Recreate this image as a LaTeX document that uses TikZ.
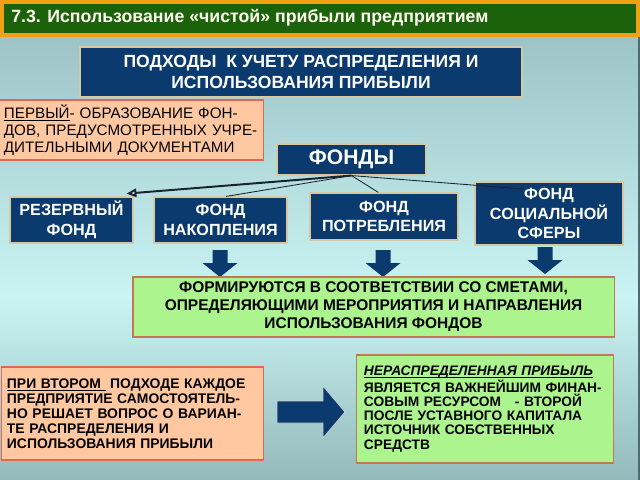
\documentclass[tikz,border=0pt]{standalone}
\usepackage{fontspec}
\setmainfont{Liberation Sans}
\usetikzlibrary{arrows.meta}
\definecolor{bgtop}{RGB}{122,158,164}
\definecolor{bgmid}{RGB}{202,244,243}
\definecolor{bgbot}{RGB}{76,108,114}
\definecolor{titlegreen}{RGB}{28,98,10}
\definecolor{titleorange}{RGB}{240,160,16}
\definecolor{navy}{RGB}{10,58,110}
\definecolor{tan}{RGB}{214,200,160}
\definecolor{peach}{RGB}{255,200,160}
\definecolor{peachline}{RGB}{222,104,84}
\definecolor{lightgreen}{RGB}{172,244,142}
\definecolor{greenline}{RGB}{196,118,86}
\definecolor{linkcolor}{RGB}{24,36,50}
\pgfdeclareverticalshading{slidebg}{100bp}{color(0bp)=(bgbot); color(44bp)=(bgmid);
  color(92bp)=(bgtop); color(100bp)=(bgtop)}
\newcommand{\ul}[1]{\underline{\raisebox{0pt}[\height][0pt]{#1}}}
\tikzset{
  bluebox/.style = {fill=navy, draw=tan, line width=0.8pt, text=white,
    font=\bfseries, align=center, inner sep=0pt},
  pinkbox/.style = {fill=peach, draw=peachline, line width=0.8pt, text=black,
    align=left, inner xsep=4pt, inner ysep=0pt},
  greenbox/.style = {fill=lightgreen, draw=greenline, line width=0.8pt, text=black,
    font=\bfseries, inner sep=0pt},
  thinlink/.style = {draw=linkcolor, line width=0.6pt},
  thicklink/.style = {draw=linkcolor, line width=1.4pt},
  downarrow/.pic = {
    \fill[navy] (-7.5,0) -- (7.5,0) -- (7.5,13) -- (17.5,13) -- (0,27)
      -- (-17.5,13) -- (-7.5,13) -- cycle;
  },
  rightarrow/.pic = {
    \filldraw[fill=navy, draw=gray!40, line width=0.6pt] (0,-11) -- (46,-11)
      -- (46,-26) -- (68,0) -- (46,26) -- (46,11) -- (0,11) -- cycle;
  }
}
\begin{document}
\begin{tikzpicture}[x=0.025cm, y=-0.025cm]
\useasboundingbox (0,0) rectangle (640,480);

% 背景のグラデーション
\shade[shading=slidebg] (0,0) rectangle (640,480);
\draw[bgbot, line width=0.8pt] (639,37) -- (639,480);

% タイトル
\fill[titleorange] (0,0) rectangle (640,37);
\fill[titlegreen] (4,4) rectangle (636,33);
\node[anchor=west, text=white!94!yellow, font=\fontsize{12.6}{15}\selectfont\bfseries, inner sep=0pt]
  (title) at (11,18) {7.3. Использование «чистой» прибыли предприятием};

% 上の箱
\node[bluebox, minimum width=11.05cm, minimum height=1.25cm,
  font=\fontsize{12.5}{15}\selectfont\bfseries] (approach) at (301,72)
  {ПОДХОДЫ\ \ К УЧЕТУ РАСПРЕДЕЛЕНИЯ И\\ИСПОЛЬЗОВАНИЯ ПРИБЫЛИ};

% 第一の方法
\node[pinkbox, minimum width=6.55cm, minimum height=1.5cm, text width=6.35cm,
  font=\fontsize{10.8}{12}\selectfont] (first) at (131,130)
  {\ul{ПЕРВЫЙ}- ОБРАЗОВАНИЕ ФОН-\\ДОВ, ПРЕДУСМОТРЕННЫХ УЧРЕ-\\ДИТЕЛЬНЫМИ ДОКУМЕНТАМИ};

% 基金
\node[bluebox, minimum width=3.725cm, minimum height=0.775cm,
  font=\fontsize{15}{17}\selectfont\bfseries] (funds) at (351.5,159.5) {ФОНДЫ};
\node[bluebox, minimum width=3.075cm, minimum height=1.15cm,
  font=\fontsize{11.5}{14}\selectfont\bfseries] (reserve) at (71.5,220) {РЕЗЕРВНЫЙ\\ФОНД};
\node[bluebox, minimum width=3.325cm, minimum height=1.15cm,
  font=\fontsize{11.5}{14}\selectfont\bfseries] (saving) at (220.5,220) {ФОНД\\НАКОПЛЕНИЯ};
\node[bluebox, minimum width=3.7cm, minimum height=1.175cm,
  font=\fontsize{11.5}{14}\selectfont\bfseries] (consume) at (384,216.5) {ФОНД\\ПОТРЕБЛЕНИЯ};
\node[bluebox, minimum width=3.7cm, minimum height=1.575cm,
  font=\fontsize{11.5}{14}\selectfont\bfseries] (social) at (549,213.5) {ФОНД\\СОЦИАЛЬНОЙ\\СФЕРЫ};

% 基金からの線
\coordinate (socialend) at (523,189);
\draw[thicklink, -{Triangle[open, fill=white!80!gray, length=7pt, width=6pt]}]
  (funds.south) -- ([xshift=-5pt, yshift=2pt]reserve.north east);
\draw[thinlink] (funds.south) -- ([xshift=4pt]saving.north);
\draw[thinlink] (funds.south) -- ([xshift=-4pt]consume.north);
\draw[thinlink] (funds.south) -- (socialend);

% 下向きの矢印
\path (220,250) pic {downarrow};
\path (383,250) pic {downarrow};
\path (545,247) pic {downarrow};

% 中央の箱
\node[greenbox, align=center, minimum width=12.025cm, minimum height=1.5cm,
  font=\fontsize{11}{12.8}\selectfont\bfseries] (estimates) at (373.5,307)
  {ФОРМИРУЮТСЯ В СООТВЕТСТВИИ СО СМЕТАМИ,\\ОПРЕДЕЛЯЮЩИМИ МЕРОПРИЯТИЯ И НАПРАВЛЕНИЯ\\ИСПОЛЬЗОВАНИЯ ФОНДОВ};

% 第二の方法
\node[pinkbox, minimum width=6.475cm, minimum height=2.325cm, text width=6.275cm,
  font=\fontsize{9.9}{10.7}\selectfont\bfseries] (second) at (132.5,413.5)
  {\ul{ПРИ ВТОРОМ\ }\ ПОДХОДЕ КАЖДОЕ\\ПРЕДПРИЯТИЕ САМОСТОЯТЕЛЬ-\\НО РЕШАЕТ ВОПРОС О ВАРИАН-\\ТЕ РАСПРЕДЕЛЕНИЯ И\\ИСПОЛЬЗОВАНИЯ ПРИБЫЛИ};

% 右向きの矢印
\path (277,412) pic {rightarrow};

% 未処分利益
\node[greenbox, align=left, inner xsep=5.5pt, minimum width=6.4cm, minimum height=2.7cm,
  text width=6.05cm, font=\fontsize{9.8}{10.1}\selectfont\bfseries] (retained) at (485,409)
  {\textit{\ul{НЕРАСПРЕДЕЛЕННАЯ ПРИБЫЛЬ}}\\ЯВЛЯЕТСЯ ВАЖНЕЙШИМ ФИНАН-\\СОВЫМ РЕСУРСОМ\ \ \ - ВТОРОЙ\\ПОСЛЕ УСТАВНОГО КАПИТАЛА\\ИСТОЧНИК СОБСТВЕННЫХ\\СРЕДСТВ};
\end{tikzpicture}
\end{document}
